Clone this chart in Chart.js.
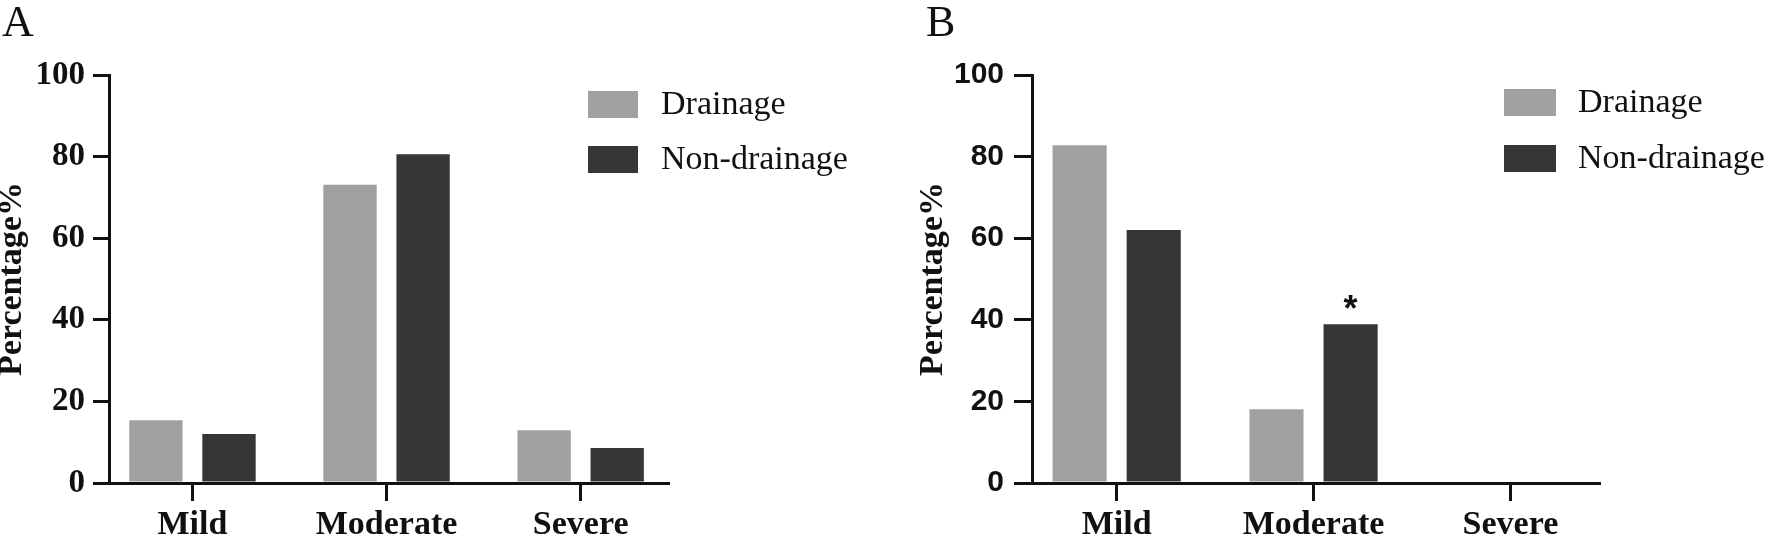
<!DOCTYPE html>
<html>
<head>
<meta charset="utf-8">
<script src="https://cdn.jsdelivr.net/npm/chart.js@4.4.1/dist/chart.umd.min.js"></script>
<style>
  html, body { margin: 0; padding: 0; background: #fff; }
  body { width: 1769px; height: 538px; position: relative; overflow: hidden; }
  .panel { position: absolute; top: 0; height: 538px; }
  .letter { position: absolute; top: 0; font: 44px/44px "Liberation Serif", serif; color: #111; }
</style>
</head>
<body>
<div class="panel" style="left:0;width:884px"><canvas id="chartA" width="884" height="538"></canvas></div>
<div class="panel" style="left:884px;width:885px"><canvas id="chartB" width="885" height="538"></canvas></div>
<div class="letter" style="left:2px">A</div>
<div class="letter" style="left:926px">B</div>

<script>
// data
const categories = ['Mild', 'Moderate', 'Severe'];
const seriesNames = ['Drainage', 'Non-drainage'];
const seriesColors = ['#a0a0a0', '#363636'];
const drainageA = [15.4, 73.1, 12.9];
const nonDrainageA = [12.0, 80.6, 8.6];
const drainageB = [82.8, 18.1, 0];
const nonDrainageB = [62.0, 38.9, 0];
const yTicks = [0, 20, 40, 60, 80, 100];
const starsB = [{ dataset: 1, index: 1, text: '*' }];

const serif = '"Liberation Serif", "Times New Roman", serif';
const sans = '"Liberation Sans", Arial, sans-serif';

// legend drawn inside the plot, like the original figure
const boxLegend = {
  id: 'boxLegend',
  afterDraw(chart, args, opts) {
    const ctx = chart.ctx;
    ctx.save();
    ctx.font = '34px ' + serif;
    ctx.textBaseline = 'middle';
    chart.data.datasets.forEach((ds, i) => {
      const y = opts.y + i * opts.rowGap;
      ctx.fillStyle = ds.backgroundColor;
      ctx.fillRect(opts.x, y, opts.boxW, opts.boxH);
      ctx.fillStyle = '#111';
      ctx.fillText(ds.label, opts.x + opts.textGap, y + opts.boxH / 2 + 1);
    });
    ctx.restore();
  }
};

// significance marks above bars
const sigStars = {
  id: 'sigStars',
  afterDatasetsDraw(chart, args, opts) {
    const marks = opts.marks || [];
    const ctx = chart.ctx;
    ctx.save();
    ctx.font = 'bold 36px ' + sans;
    ctx.textAlign = 'center';
    ctx.textBaseline = 'alphabetic';
    ctx.fillStyle = '#111';
    marks.forEach(m => {
      const bar = chart.getDatasetMeta(m.dataset).data[m.index];
      ctx.fillText(m.text, bar.x, bar.y - 3);
    });
    ctx.restore();
  }
};

function toPoints(values) {
  return values.map((v, i) => ({ x: i, y: v }));
}

function makeChart(id, drainage, nonDrainage, p) {
  return new Chart(document.getElementById(id), {
    type: 'bar',
    data: {
      datasets: [
        { label: seriesNames[0], data: toPoints(drainage), backgroundColor: seriesColors[0] },
        { label: seriesNames[1], data: toPoints(nonDrainage), backgroundColor: seriesColors[1] }
      ]
    },
    plugins: [boxLegend, sigStars],
    options: {
      responsive: false,
      animation: false,
      layout: { padding: { left: 0, top: 75, right: p.rightPad, bottom: 0 } },
      datasets: { bar: { categoryPercentage: 0.753, barPercentage: 0.73, borderWidth: 0 } },
      plugins: {
        legend: { display: false },
        tooltip: { enabled: false },
        boxLegend: p.legend,
        sigStars: { marks: p.marks || [] }
      },
      scales: {
        x: {
          type: 'linear',
          min: -0.43,
          max: 2.45,
          offset: false,
          afterBuildTicks: s => { s.ticks = categories.map((c, i) => ({ value: i })); },
          afterFit: s => { s.height = 55; },
          ticks: {
            callback: v => categories[v],
            color: '#111',
            padding: 7,
            maxRotation: 0,
            font: { family: serif, size: 34, weight: 'bold', lineHeight: 1 }
          },
          grid: { offset: false, drawOnChartArea: false, tickLength: 18, color: '#111', lineWidth: 3 },
          border: { color: '#111', width: 3 }
        },
        y: {
          min: 0,
          max: 100,
          afterBuildTicks: s => { s.ticks = yTicks.map(v => ({ value: v })); },
          afterFit: s => { s.width = p.yWidth; },
          ticks: {
            color: '#111',
            padding: p.tickPad,
            font: p.tickFont
          },
          grid: { drawOnChartArea: false, tickLength: p.tickLen, color: '#111', lineWidth: 3 },
          border: { color: '#111', width: 3 },
          title: {
            display: true,
            text: 'Percentage%',
            color: '#111',
            padding: { top: p.titlePad, bottom: 0 },
            font: { family: serif, size: 34, weight: 'bold', lineHeight: 1 }
          }
        }
      }
    }
  });
}

makeChart('chartA', drainageA, nonDrainageA, {
  rightPad: 216,
  yWidth: 109,
  tickPad: 8,
  tickLen: 16,
  titlePad: -5,
  tickFont: { family: serif, size: 33, weight: 'bold' },
  legend: { x: 588, y: 91, rowGap: 55, boxW: 50, boxH: 27, textGap: 73 }
});

makeChart('chartB', drainageB, nonDrainageB, {
  rightPad: 170,
  yWidth: 148,
  tickPad: 10,
  tickLen: 18,
  titlePad: 32,
  tickFont: { family: sans, size: 30, weight: 'bold' },
  legend: { x: 620, y: 89, rowGap: 56, boxW: 52, boxH: 27, textGap: 74 },
  marks: starsB
});
</script>
</body>
</html>
